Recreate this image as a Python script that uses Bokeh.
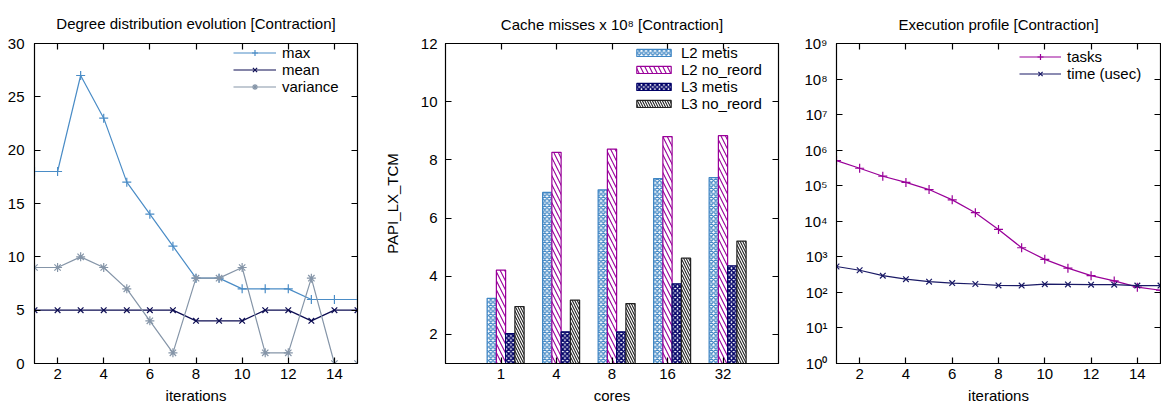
from bokeh.plotting import figure
from bokeh.layouts import row
from bokeh.models import (LinearAxis, LogAxis, FixedTicker, Range1d, Legend, LegendItem,
                          CustomJSTickFormatter, ColumnDataSource)
from bokeh.transform import dodge
from bokeh.embed import file_html
from bokeh.resources import INLINE

FONT = "Liberation Sans"
FS = "15px"

# ---------------- data ----------------
iterations = list(range(1, 16))
deg_max = [18, 18, 27, 23, 17, 14, 11, 8, 8, 7, 7, 7, 6, 6, 6]
deg_mean = [5, 5, 5, 5, 5, 5, 5, 4, 4, 4, 5, 5, 4, 5, 5]
deg_variance = [9, 9, 10, 9, 7, 4, 1, 8, 8, 9, 1, 1, 8, 0, 0]

cores = ["1", "4", "8", "16", "32"]
l2_metis = [3.24, 6.88, 6.97, 7.36, 7.39]
l2_noreord = [4.21, 8.26, 8.37, 8.80, 8.83]
l3_metis = [2.03, 2.09, 2.09, 3.74, 4.36]
l3_noreord = [2.96, 3.18, 3.06, 4.62, 5.21]

tasks = [5.1e5, 3.1e5, 1.85e5, 1.24e5, 7.8e4, 4.0e4, 1.74e4, 5.9e3, 1.8e3,
         850, 480, 295, 210, 140, 115]
time_usec = [535, 420, 295, 235, 200, 183, 172, 157, 155, 170, 168, 165, 165, 155, 155]

iter_ticks = [2, 4, 6, 8, 10, 12, 14]

C_MAX = "#4a8cc6"
C_MEAN = "#0c0c52"
C_VAR = "#8595a8"
C_L2M = "#3f86c4"
C_L2N = "#990099"
C_L3M = "#000066"
C_L3N = "#222222"
C_TASKS = "#990099"
C_TIME = "#1a1a66"


def base_style(p, title_standoff):
    p.outline_line_color = "black"
    p.outline_line_width = 1.2
    p.background_fill_color = "white"
    p.border_fill_color = "white"
    p.xgrid.visible = False
    p.ygrid.visible = False
    p.title.text_font = FONT
    p.title.text_font_size = FS
    p.title.text_font_style = "normal"
    p.title.text_color = "black"
    p.title.align = "center"
    p.title.standoff = title_standoff
    for ax in p.axis:
        ax.major_label_text_font = FONT
        ax.major_label_text_font_size = FS
        ax.major_label_text_color = "black"
        ax.axis_label_text_font = FONT
        ax.axis_label_text_font_size = FS
        ax.axis_label_text_font_style = "normal"
        ax.axis_label_text_color = "black"
        ax.major_tick_in = 6
        ax.major_tick_out = 0
        ax.minor_tick_in = 0
        ax.minor_tick_out = 0
        ax.axis_line_color = "black"
        ax.major_tick_line_color = "black"
        ax.major_tick_line_width = 1.2


def mirror_axis(cls, ticker):
    return cls(ticker=ticker, major_label_text_font_size="0px", major_label_standoff=0,
               major_label_text_alpha=0,
               major_tick_in=6, major_tick_out=0, minor_tick_in=0, minor_tick_out=0,
               major_tick_line_width=1.2,
               axis_line_color="black", major_tick_line_color="black")


def make_legend(items, loc, glyph_w, **kw):
    return Legend(items=items, location=loc, border_line_alpha=0,
                  background_fill_alpha=0, label_text_font=FONT, label_text_font_size=FS,
                  label_text_color="black", glyph_width=glyph_w, label_standoff=6,
                  padding=0, margin=0, **kw)


# ---------------- panel 1 ----------------
p1 = figure(width=380, height=413, output_backend="svg", toolbar_location=None,
            title="Degree distribution evolution [Contraction]",
            x_range=Range1d(1, 15), y_range=Range1d(0, 30),
            min_border_left=34, min_border_right=23, min_border_top=40, min_border_bottom=50)
src1 = ColumnDataSource(dict(x=iterations, mx=deg_max, mn=deg_mean, vr=deg_variance))
l_max = p1.line("x", "mx", source=src1, line_color=C_MAX, line_width=1.2)
s_max = p1.scatter("x", "mx", source=src1, marker="cross", size=9, line_color=C_MAX, line_width=1.2)
l_mean = p1.line("x", "mn", source=src1, line_color=C_MEAN, line_width=1.2)
s_mean = p1.scatter("x", "mn", source=src1, marker="x", size=8, line_color=C_MEAN, line_width=1.2)
l_var = p1.line("x", "vr", source=src1, line_color=C_VAR, line_width=1.2)
s_var = p1.scatter("x", "vr", source=src1, marker="asterisk", size=9, line_color=C_VAR, line_width=1.2)
p1.xaxis.ticker = FixedTicker(ticks=iter_ticks)
p1.yaxis.ticker = FixedTicker(ticks=[0, 5, 10, 15, 20, 25, 30])
p1.xaxis.axis_label = "iterations"
base_style(p1, 23)
p1.add_layout(mirror_axis(LinearAxis, FixedTicker(ticks=iter_ticks)), "above")
p1.add_layout(mirror_axis(LinearAxis, FixedTicker(ticks=[0, 5, 10, 15, 20, 25, 30])), "right")
p1.yaxis[0].major_label_standoff = 10
p1.xaxis[0].major_label_standoff = 8
p1.xaxis[0].axis_label_standoff = 15
lg1 = make_legend([LegendItem(label="max", renderers=[l_max, s_max]),
                   LegendItem(label="mean", renderers=[l_mean, s_mean]),
                   LegendItem(label="variance", renderers=[l_var, s_var])],
                  (199, 268), 43, glyph_height=15, label_height=15, spacing=-1)
p1.add_layout(lg1)

# ---------------- panel 2 ----------------
p2 = figure(width=410, height=413, output_backend="svg", toolbar_location=None,
            title="Cache misses x 10\u2078 [Contraction]",
            x_range=Range1d(-1, len(cores)), y_range=Range1d(1, 12),
            min_border_left=63, min_border_right=12, min_border_top=37, min_border_bottom=44)
src2 = ColumnDataSource(dict(x=list(range(len(cores))), l2m=l2_metis, l2n=l2_noreord,
                             l3m=l3_metis, l3n=l3_noreord))
bw = 1.0 / 6
b1 = p2.vbar(x=dodge("x", -bw, range=p2.x_range), top="l2m", bottom=0, width=bw, source=src2,
             fill_color="white", line_color=C_L2M, line_width=1.2,
             hatch_pattern="diagonal_cross", hatch_color=C_L2M, hatch_scale=4.5, hatch_weight=1.3)
b2 = p2.vbar(x=dodge("x", 0, range=p2.x_range), top="l2n", bottom=0, width=bw, source=src2,
             fill_color="white", line_color=C_L2N, line_width=1.2,
             hatch_pattern="left_diagonal_line", hatch_color=C_L2N, hatch_scale=9, hatch_weight=1.1)
b3 = p2.vbar(x=dodge("x", bw, range=p2.x_range), top="l3m", bottom=0, width=bw, source=src2,
             fill_color="white", line_color=C_L3M, line_width=1.2,
             hatch_pattern="diagonal_cross", hatch_color=C_L3M, hatch_scale=4.5, hatch_weight=1.6)
b4 = p2.vbar(x=dodge("x", 2 * bw, range=p2.x_range), top="l3n", bottom=0, width=bw, source=src2,
             fill_color="white", line_color=C_L3N, line_width=1.2,
             hatch_pattern="left_diagonal_line", hatch_color=C_L3N, hatch_scale=5, hatch_weight=1.1)
core_pos = list(range(len(cores)))
p2.xaxis.ticker = FixedTicker(ticks=core_pos)
p2.xaxis.major_label_overrides = {i: c for i, c in enumerate(cores)}
p2.yaxis.ticker = FixedTicker(ticks=[2, 4, 6, 8, 10, 12])
p2.xaxis.axis_label = "cores"
p2.yaxis.axis_label = "PAPI_LX_TCM"
base_style(p2, 21)
p2.add_layout(mirror_axis(LinearAxis, FixedTicker(ticks=core_pos)), "above")
p2.add_layout(mirror_axis(LinearAxis, FixedTicker(ticks=[2, 4, 6, 8, 10, 12])), "right")
p2.yaxis[0].major_label_standoff = 8
p2.yaxis[0].axis_label_standoff = 17
p2.xaxis[0].major_label_standoff = 10
p2.xaxis[0].axis_label_standoff = 13
lg2 = make_legend([LegendItem(label="L2 metis", renderers=[b1]),
                   LegendItem(label="L2 no_reord", renderers=[b2]),
                   LegendItem(label="L3 metis", renderers=[b3]),
                   LegendItem(label="L3 no_reord", renderers=[b4])],
                  (187, 251), 43, glyph_height=9, label_height=14, spacing=-3)
p2.add_layout(lg2)

# ---------------- panel 3 ----------------
decades = [10 ** k for k in range(10)]
p3 = figure(width=371, height=413, output_backend="svg", toolbar_location=None,
            title="Execution profile [Contraction]", y_axis_type="log",
            x_range=Range1d(1, 15), y_range=Range1d(1, 1e9),
            min_border_left=46, min_border_right=1, min_border_top=43, min_border_bottom=45)
src3 = ColumnDataSource(dict(x=iterations, tasks=tasks, t=time_usec))
l_tasks = p3.line("x", "tasks", source=src3, line_color=C_TASKS, line_width=1.2)
s_tasks = p3.scatter("x", "tasks", source=src3, marker="cross", size=9, line_color=C_TASKS, line_width=1.2)
l_time = p3.line("x", "t", source=src3, line_color=C_TIME, line_width=1.2)
s_time = p3.scatter("x", "t", source=src3, marker="x", size=8, line_color=C_TIME, line_width=1.2)
p3.xaxis.ticker = FixedTicker(ticks=iter_ticks)
p3.yaxis.ticker = FixedTicker(ticks=decades)
p3.yaxis.formatter = CustomJSTickFormatter(code="""
const sup = {"0":"\u2070","1":"\u00b9","2":"\u00b2","3":"\u00b3","4":"\u2074",
             "5":"\u2075","6":"\u2076","7":"\u2077","8":"\u2078","9":"\u2079","-":"\u207b"};
const e = Math.round(Math.log10(tick));
return "10" + String(e).split("").map(c => sup[c]).join("");
""")
p3.xaxis.axis_label = "iterations"
base_style(p3, 21)
p3.add_layout(mirror_axis(LinearAxis, FixedTicker(ticks=iter_ticks)), "above")
p3.add_layout(mirror_axis(LogAxis, FixedTicker(ticks=decades)), "right")
p3.yaxis[0].major_label_standoff = 9
p3.xaxis[0].major_label_standoff = 10
p3.xaxis[0].axis_label_standoff = 13
lg3 = make_legend([LegendItem(label="tasks", renderers=[l_tasks, s_tasks]),
                   LegendItem(label="time (usec)", renderers=[l_time, s_time])],
                  (183, 281), 42, glyph_height=15, label_height=15, spacing=-2)
p3.add_layout(lg3)

layout = row(p1, p2, p3)
open("out.html", "w").write(file_html(layout, INLINE))
